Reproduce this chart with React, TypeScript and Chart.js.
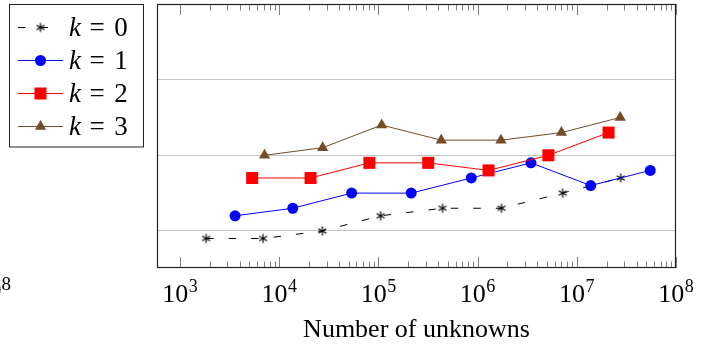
import React, { useEffect, useRef } from "react";
import { Chart, registerables } from "chart.js";

Chart.register(...registerables);

// ---- data ----
const kLabels = ["0", "1", "2", "3"];
const k0X = [1835, 6880, 27200, 105000, 443000, 1740000, 7200000, 27700000];
const k0Y = [9, 9, 10, 12, 13, 13, 15, 17];
const k1X = [3590, 13700, 53700, 214000, 863000, 3450000, 13800000, 55000000];
const k1Y = [12, 13, 15, 15, 17, 19, 16, 18];
const k2X = [5340, 20700, 81100, 318000, 1290000, 5170000, 20900000];
const k2Y = [17, 17, 19, 19, 18, 20, 23];
const k3X = [7110, 27400, 108000, 430000, 1720000, 7000000, 27400000];
const k3Y = [20, 21, 24, 22, 22, 23, 25];
const xTickExponents = ["3", "4", "5", "6", "7", "8"];
const yGridValues = [10, 20, 30, 40];
const xTitle = "Number of unknowns";
const cutLabelExponent = "8";

const X_MIN = Math.pow(10, 2.768);
const X_MAX = 1e8;

const COLORS = ["#000000", "#0000ff", "#ff0000", "#734d26"];
const SERIF = '"Liberation Serif", "Times New Roman", serif';

function makeAsterisk(color: string) {
  const size = 12;
  const r = 4.6;
  const c = document.createElement("canvas");
  c.width = size;
  c.height = size;
  const g = c.getContext("2d")!;
  g.strokeStyle = color;
  g.lineWidth = 1.2;
  const cx = size / 2;
  const cy = size / 2;
  for (const a of [90, 30, 150]) {
    const rad = (a * Math.PI) / 180;
    g.beginPath();
    g.moveTo(cx - r * Math.cos(rad), cy - r * Math.sin(rad));
    g.lineTo(cx + r * Math.cos(rad), cy + r * Math.sin(rad));
    g.stroke();
  }
  return c;
}

function pts(xs: number[], ys: number[]) {
  return xs.map((x, i) => ({ x, y: ys[i] }));
}

export default function App() {
  const ref = useRef<HTMLCanvasElement>(null);

  useEffect(() => {
    const canvas = ref.current!;
    const star = makeAsterisk("#000");

    const drawMarker = (ctx: CanvasRenderingContext2D, i: number, x: number, y: number) => {
      ctx.save();
      ctx.fillStyle = COLORS[i];
      if (i === 0) {
        ctx.drawImage(star, x - star.width / 2, y - star.height / 2);
      } else if (i === 1) {
        ctx.beginPath();
        ctx.arc(x, y, 5.5, 0, Math.PI * 2);
        ctx.fill();
      } else if (i === 2) {
        ctx.fillRect(x - 6, y - 6, 12, 12);
      } else {
        const r = 6.5;
        ctx.beginPath();
        ctx.moveTo(x, y - r);
        ctx.lineTo(x + r * 0.866, y + r * 0.5);
        ctx.lineTo(x - r * 0.866, y + r * 0.5);
        ctx.closePath();
        ctx.fill();
      }
      ctx.restore();
    };

    const decor = {
      id: "decor",
      afterDraw(chart: any) {
        const ctx: CanvasRenderingContext2D = chart.ctx;
        const { left, right, top, bottom } = chart.chartArea;
        const xs = chart.scales.x;
        ctx.save();

        // minor / major ticks inside top and bottom
        ctx.strokeStyle = "#808080";
        ctx.lineWidth = 1;
        for (let e = 3; e <= 8; e++) {
          for (let m = 1; m <= 9; m++) {
            const v = m * Math.pow(10, e);
            if (v > X_MAX * 1.0001) break;
            const px = Math.round(xs.getPixelForValue(v)) + 0.5;
            const len = m === 1 ? 11 : 6.5;
            ctx.beginPath();
            ctx.moveTo(px, top);
            ctx.lineTo(px, top + len);
            ctx.moveTo(px, bottom);
            ctx.lineTo(px, bottom - len);
            ctx.stroke();
          }
        }

        // frame
        ctx.strokeStyle = "#222";
        ctx.lineWidth = 1.2;
        ctx.strokeRect(left + 0.5, top + 0.5, right - left - 1, bottom - top - 1);

        // tick labels 10^n
        ctx.fillStyle = "#000";
        ctx.textBaseline = "alphabetic";
        ctx.textAlign = "left";
        xTickExponents.forEach((ex) => {
          const v = Math.pow(10, Number(ex));
          const px = xs.getPixelForValue(v);
          ctx.font = `26px ${SERIF}`;
          const w1 = ctx.measureText("10").width;
          ctx.font = `18px ${SERIF}`;
          const w2 = ctx.measureText(ex).width;
          const start = px - (w1 + w2 + 0.5) / 2;
          ctx.font = `26px ${SERIF}`;
          ctx.fillText("10", start, bottom + 33.5);
          ctx.font = `18px ${SERIF}`;
          ctx.fillText(ex, start + w1 + 0.5, bottom + 23.5);
        });

        // cut-off label from neighbouring figure
        ctx.font = `26px ${SERIF}`;
        ctx.textAlign = "right";
        ctx.fillText("10", 1.5, 298);
        ctx.textAlign = "left";
        ctx.font = `19px ${SERIF}`;
        ctx.fillText(cutLabelExponent, 1.5, 289.5);

        // axis title
        ctx.font = `26px ${SERIF}`;
        ctx.textAlign = "center";
        ctx.fillText(xTitle, (left + right) / 2, 336.5);

        // legend
        ctx.strokeStyle = "#222";
        ctx.lineWidth = 1;
        ctx.strokeRect(9.5, 4.5, 134, 142.5);
        kLabels.forEach((lab, i) => {
          const cy = 27 + 33 * i;
          ctx.save();
          ctx.strokeStyle = COLORS[i];
          ctx.lineWidth = 1;
          if (i === 0) ctx.setLineDash([7.5, 15]);
          ctx.beginPath();
          ctx.moveTo(18, cy + 0.5);
          ctx.lineTo(63, cy + 0.5);
          ctx.stroke();
          ctx.restore();
          drawMarker(ctx, i, 40.5, cy + 0.5);
          const base = cy + 9;
          ctx.fillStyle = "#000";
          ctx.textAlign = "left";
          ctx.font = `italic 27px ${SERIF}`;
          ctx.fillText("k", 69, base);
          ctx.font = `27px ${SERIF}`;
          ctx.textAlign = "center";
          ctx.fillText("=", 97, base);
          ctx.fillText(lab, 121, base);
        });

        ctx.restore();
      },
    };

    const chart = new Chart(canvas, {
      type: "line",
      data: {
        datasets: [
          {
            label: "k = 0",
            data: pts(k0X, k0Y),
            borderColor: COLORS[0],
            backgroundColor: COLORS[0],
            borderWidth: 1,
            borderDash: [7.5, 15],
            pointStyle: star as any,
            pointRadius: 4,
            pointBorderWidth: 0,
            order: 3,
          },
          {
            label: "k = 1",
            data: pts(k1X, k1Y),
            borderColor: COLORS[1],
            backgroundColor: COLORS[1],
            borderWidth: 1,
            pointStyle: "circle",
            pointRadius: 5.5,
            pointBorderWidth: 0,
            order: 2,
          },
          {
            label: "k = 2",
            data: pts(k2X, k2Y),
            borderColor: COLORS[2],
            backgroundColor: COLORS[2],
            borderWidth: 1,
            pointStyle: "rect",
            pointRadius: 8.5,
            pointBorderWidth: 0,
            order: 1,
          },
          {
            label: "k = 3",
            data: pts(k3X, k3Y),
            borderColor: COLORS[3],
            backgroundColor: COLORS[3],
            borderWidth: 1,
            pointStyle: "triangle",
            pointRadius: 6.5,
            pointBorderWidth: 0,
            order: 0,
          },
        ],
      },
      options: {
        animation: false,
        responsive: false,
        devicePixelRatio: 1,
        layout: { autoPadding: false, padding: { left: 157, right: 25, top: 4, bottom: 78 } },
        plugins: { legend: { display: false }, tooltip: { enabled: false } },
        scales: {
          x: {
            type: "logarithmic",
            min: X_MIN,
            max: X_MAX,
            ticks: { display: false },
            grid: { display: false },
            border: { display: false },
            afterFit: (s: any) => {
              s.height = 0;
            },
          },
          y: {
            type: "linear",
            min: 5.1,
            max: 40,
            ticks: { display: false },
            grid: { color: "#c4c4c4", lineWidth: 1, drawTicks: false },
            border: { display: false },
            afterBuildTicks: (s: any) => {
              s.ticks = yGridValues.map((v) => ({ value: v }));
            },
            afterFit: (s: any) => {
              s.width = 0;
            },
          },
        },
      } as any,
      plugins: [decor],
    });

    return () => chart.destroy();
  }, []);

  return (
    <div style={{ position: "fixed", left: 0, top: 0, width: 701, height: 346, background: "#fff" }}>
      <canvas ref={ref} width={701} height={346} style={{ display: "block", width: 701, height: 346 }} />
    </div>
  );
}
